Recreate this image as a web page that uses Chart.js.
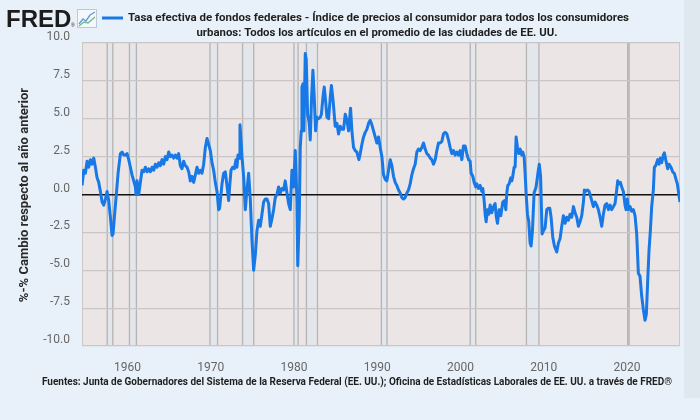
<!DOCTYPE html>
<html lang="es">
<head>
<meta charset="utf-8">
<title>Tasa efectiva de fondos federales - IPC</title>
<script src="https://cdn.jsdelivr.net/npm/chart.js@4.4.1/dist/chart.umd.min.js"></script>
<style>
  html, body { margin: 0; padding: 0; background: #e8f1f9; }
  #contenedor { width: 700px; height: 420px; }
</style>
</head>
<body>
<div id="contenedor"><canvas id="grafica" width="700" height="420"></canvas></div>
<script>
// Fechas (año decimal) y valores (%)
const anios = [
  1954.56, 1954.76, 1954.96, 1955.16, 1955.36, 1955.56, 1955.76, 1955.96, 1956.16, 1956.36,
  1956.56, 1956.76, 1956.96, 1957.16, 1957.36, 1957.56, 1957.76, 1957.96, 1958.16, 1958.28,
  1958.44, 1958.64, 1958.88, 1959.16, 1959.36, 1959.56, 1959.76, 1959.96, 1960.16, 1960.36,
  1960.56, 1960.76, 1960.96, 1961.04, 1961.16, 1961.36, 1961.56, 1961.76, 1961.96, 1962.16,
  1962.36, 1962.56, 1962.76, 1962.96, 1963.16, 1963.36, 1963.56, 1963.76, 1963.96, 1964.16,
  1964.36, 1964.56, 1964.76, 1964.96, 1965.16, 1965.36, 1965.56, 1965.76, 1965.96, 1966.16,
  1966.36, 1966.56, 1966.76, 1966.96, 1967.16, 1967.36, 1967.56, 1967.76, 1967.96, 1968.16,
  1968.36, 1968.56, 1968.76, 1968.96, 1969.16, 1969.36, 1969.56, 1969.76, 1969.96, 1970.16,
  1970.36, 1970.56, 1970.76, 1970.96, 1971.08, 1971.24, 1971.36, 1971.56, 1971.76, 1971.96,
  1972.16, 1972.28, 1972.44, 1972.64, 1972.84, 1973.04, 1973.16, 1973.28, 1973.44, 1973.52,
  1973.64, 1973.76, 1973.96, 1974.16, 1974.36, 1974.56, 1974.76, 1974.96, 1975.16, 1975.36,
  1975.56, 1975.76, 1975.96, 1976.16, 1976.36, 1976.56, 1976.76, 1976.96, 1977.16, 1977.36,
  1977.56, 1977.76, 1977.96, 1978.16, 1978.36, 1978.56, 1978.76, 1978.96, 1979.16, 1979.36,
  1979.56, 1979.76, 1979.96, 1980.16, 1980.36, 1980.46, 1980.64, 1980.76, 1980.88, 1980.96,
  1981.08, 1981.20, 1981.36, 1981.48, 1981.64, 1981.84, 1981.96, 1982.12, 1982.28, 1982.44,
  1982.60, 1982.76, 1982.96, 1983.16, 1983.30, 1983.48, 1983.64, 1983.80, 1983.96, 1984.16,
  1984.36, 1984.50, 1984.70, 1984.96, 1985.16, 1985.36, 1985.56, 1985.76, 1985.96, 1986.16,
  1986.36, 1986.56, 1986.80, 1986.96, 1987.16, 1987.36, 1987.56, 1987.80, 1987.96, 1988.16,
  1988.36, 1988.56, 1988.76, 1988.96, 1989.16, 1989.36, 1989.56, 1989.76, 1989.96, 1990.16,
  1990.36, 1990.56, 1990.76, 1990.96, 1991.16, 1991.36, 1991.56, 1991.76, 1991.96, 1992.16,
  1992.36, 1992.56, 1992.76, 1992.96, 1993.16, 1993.36, 1993.56, 1993.76, 1993.96, 1994.16,
  1994.36, 1994.56, 1994.76, 1994.96, 1995.16, 1995.36, 1995.56, 1995.76, 1995.96, 1996.16,
  1996.36, 1996.56, 1996.76, 1996.96, 1997.16, 1997.36, 1997.56, 1997.76, 1997.96, 1998.16,
  1998.36, 1998.56, 1998.76, 1998.96, 1999.16, 1999.36, 1999.56, 1999.76, 1999.96, 2000.16,
  2000.36, 2000.56, 2000.76, 2000.96, 2001.16, 2001.28, 2001.48, 2001.64, 2001.84, 2001.96,
  2002.16, 2002.36, 2002.56, 2002.68, 2002.84, 2002.96, 2003.08, 2003.24, 2003.40, 2003.56,
  2003.76, 2003.96, 2004.16, 2004.28, 2004.44, 2004.64, 2004.84, 2005.08, 2005.28, 2005.44,
  2005.56, 2005.68, 2005.84, 2006.04, 2006.16, 2006.28, 2006.44, 2006.56, 2006.68, 2006.84,
  2007.00, 2007.16, 2007.36, 2007.48, 2007.64, 2007.76, 2007.88, 2008.04, 2008.20, 2008.36,
  2008.48, 2008.64, 2008.84, 2009.08, 2009.30, 2009.46, 2009.62, 2009.80, 2009.96, 2010.16,
  2010.36, 2010.56, 2010.72, 2010.88, 2011.08, 2011.28, 2011.56, 2011.76, 2011.96, 2012.16,
  2012.36, 2012.56, 2012.76, 2012.96, 2013.16, 2013.36, 2013.56, 2013.76, 2013.96, 2014.16,
  2014.36, 2014.56, 2014.76, 2014.88, 2015.04, 2015.24, 2015.44, 2015.56, 2015.76, 2015.96,
  2016.16, 2016.36, 2016.56, 2016.76, 2016.96, 2017.16, 2017.36, 2017.56, 2017.76, 2017.96,
  2018.16, 2018.36, 2018.56, 2018.76, 2018.88, 2019.04, 2019.20, 2019.36, 2019.56, 2019.76,
  2019.88, 2020.04, 2020.16, 2020.36, 2020.56, 2020.76, 2020.96, 2021.16, 2021.36, 2021.56,
  2021.76, 2021.96, 2022.16, 2022.32, 2022.48, 2022.64, 2022.80, 2022.96, 2023.16, 2023.28,
  2023.44, 2023.68, 2023.84, 2024.00, 2024.16, 2024.36, 2024.48, 2024.64, 2024.88, 2025.04,
  2025.28, 2025.48, 2025.68, 2025.88, 2026.04, 2026.20, 2026.36
];
const valores = [
  0.6, 1.6, 1.4, 2.2, 1.8, 2.3, 2.0, 2.4, 1.8, 1.1,
  0.8, 0.2, -0.5, -0.7, -0.3, 0.2, -0.4, -1.5, -2.7, -2.6,
  -1.5, -0.2, 1.4, 2.7, 2.8, 2.6, 2.6, 2.7, 2.3, 1.8,
  1.3, 0.9, 0.5, 0.0, 0.9, 0.0, 0.8, 1.6, 1.5, 1.8,
  1.5, 1.7, 1.5, 1.8, 1.6, 2.0, 1.8, 2.1, 1.9, 2.3,
  2.0, 2.5, 2.3, 2.8, 2.5, 2.6, 2.4, 2.6, 2.4, 2.7,
  1.9, 1.7, 2.2, 1.9, 1.8, 1.5, 0.9, 1.2, 0.8, 1.3,
  1.8, 1.4, 1.6, 1.4, 2.0, 3.1, 3.7, 3.3, 2.9, 2.1,
  1.6, 0.8, 0.2, -1.0, -0.9, 0.0, 0.7, 1.4, 1.5, 0.6,
  -0.4, 0.5, 1.6, 1.8, 1.7, 2.3, 1.8, 2.6, 2.4, 4.6,
  3.6, 2.5, 1.2, -1.0, 0.3, 1.4, -0.3, -3.0, -5.0, -4.0,
  -2.4, -1.7, -2.1, -1.3, -0.5, -0.3, -0.3, -0.6, -2.1, -1.6,
  -1.0, -0.2, 0.0, 0.5, 0.1, 0.4, 0.3, 0.9, 0.1, -0.6,
  -1.0, 1.6, 0.5, 2.9, -0.4, -4.7, -1.5, 3.1, 4.2, 7.1,
  7.3, 4.2, 9.3, 8.9, 5.3, 4.7, 3.6, 6.4, 8.2, 6.4,
  4.2, 5.1, 5.0, 5.1, 5.3, 6.4, 7.1, 6.2, 5.1, 5.0,
  6.4, 7.2, 6.2, 4.5, 4.7, 4.0, 4.5, 4.3, 4.3, 5.3,
  4.9, 4.2, 5.7, 4.2, 3.1, 2.9, 2.8, 2.3, 2.7, 3.3,
  3.8, 4.1, 4.3, 4.7, 4.9, 4.6, 4.2, 3.8, 3.4, 3.8,
  3.1, 2.5, 1.3, 1.0, 0.9, 1.6, 2.3, 1.9, 1.2, 0.8,
  0.6, 0.3, 0.1, -0.2, -0.3, -0.2, 0.1, 0.3, 0.7, 1.3,
  1.7, 2.0, 2.8, 3.0, 2.9, 3.1, 3.4, 3.0, 2.7, 2.6,
  2.4, 2.3, 2.0, 2.3, 2.9, 3.4, 3.4, 3.5, 4.0, 4.1,
  4.0, 3.6, 3.1, 2.7, 2.9, 2.6, 2.8, 2.6, 2.9, 2.3,
  3.2, 3.2, 2.7, 2.3, 2.2, 1.4, 1.2, 0.8, 0.5, 0.7,
  0.4, 0.6, 0.2, 0.4, -0.4, -1.3, -1.8, -1.0, -1.3, -0.7,
  -1.2, -0.8, -0.6, -1.4, -1.9, -1.0, -1.4, -0.5, -0.4, -1.0,
  0.1, 0.6, 0.7, 1.1, 0.9, 1.2, 1.8, 1.8, 3.8, 3.1,
  2.7, 3.0, 2.6, 2.8, 2.5, 1.4, 0.1, -1.3, -1.8, -3.2,
  -3.4, -2.4, 0.1, 0.5, 1.4, 2.0, 1.2, -2.6, -2.4, -2.2,
  -1.0, -0.9, -0.9, -1.5, -2.8, -3.4, -3.8, -3.2, -2.9, -2.1,
  -1.4, -1.9, -1.5, -1.7, -1.3, -1.5, -0.8, -1.2, -1.5, -2.1,
  -1.8, -1.4, -0.5, 0.3, 0.2, 0.3, 0.2, 0.0, -0.4, -0.8,
  -0.5, -0.7, -1.0, -1.5, -2.1, -1.3, -0.7, -0.6, -1.0, -0.7,
  -1.0, -0.8, -0.6, 0.3, 0.9, 0.7, 0.8, 0.5, 0.2, -0.7,
  -1.0, -0.3, -1.0, -0.8, -1.1, -1.0, -1.4, -2.6, -5.2, -5.4,
  -6.7, -7.6, -8.3, -7.9, -5.7, -3.7, -2.4, -0.8, 0.3, 1.8,
  1.9, 2.3, 2.0, 2.4, 2.1, 2.6, 2.75, 2.3, 1.7, 2.0,
  1.8, 1.5, 1.4, 1.0, 0.7, 0.1, -0.5
];

// Recesiones (sombreado gris), año decimal
const recesionInicio = [1957.58, 1960.25, 1969.92, 1973.83, 1980.00, 1981.50, 1990.50, 2001.17, 2007.92, 2020.08];
const recesionFin    = [1958.25, 1961.08, 1970.83, 1975.17, 1980.50, 1982.83, 1991.17, 2001.83, 2009.42, 2020.25];

// Marcas de los ejes
const ticksAnios = [1960, 1970, 1980, 1990, 2000, 2010, 2020];
const ticksValores = [-10, -7.5, -5, -2.5, 0, 2.5, 5, 7.5, 10];

const tituloLinea1 = 'Tasa efectiva de fondos federales - Índice de precios al consumidor para todos los consumidores';
const tituloLinea2 = 'urbanos: Todos los artículos en el promedio de las ciudades de EE. UU.';
const tituloEjeY = '%-% Cambio respecto al año anterior';
const fuentes = 'Fuentes: Junta de Gobernadores del Sistema de la Reserva Federal (EE. UU.); Oficina de Estadísticas Laborales de EE. UU. a través de FRED®';

const colorLinea = '#1778e6';

Chart.defaults.font.family = 'Roboto, "Liberation Sans", sans-serif';

// Fondo, recesiones y textos al estilo FRED
const pluginFred = {
    id: 'pluginFred',
    beforeDraw(chart) {
        const ctx = chart.ctx;
        const a = chart.chartArea;
        const x = chart.scales.x;
        ctx.save();
        ctx.fillStyle = '#e8f1f9';
        ctx.fillRect(0, 0, chart.width, chart.height);
        // franja derecha algo más oscura
        ctx.fillStyle = '#dfe7ef';
        ctx.fillRect(684, 0, 16, 398);
        // área del gráfico
        ctx.fillStyle = '#ece5e5';
        ctx.fillRect(a.left, a.top, a.right - a.left, a.bottom - a.top);
        // recesiones
        for (let i = 0; i < recesionInicio.length; i++) {
            const x0 = x.getPixelForValue(recesionInicio[i]);
            const x1 = x.getPixelForValue(recesionFin[i]);
            ctx.fillStyle = '#e3e6ea';
            ctx.fillRect(x0, a.top, x1 - x0, a.bottom - a.top);
            ctx.strokeStyle = '#b4b4b6';
            ctx.lineWidth = 1.3;
            ctx.beginPath();
            ctx.moveTo(x0, a.top); ctx.lineTo(x0, a.bottom);
            ctx.moveTo(x1, a.top); ctx.lineTo(x1, a.bottom);
            ctx.stroke();
        }
        // bordes laterales del área
        ctx.strokeStyle = '#cdc8c8';
        ctx.lineWidth = 1;
        ctx.beginPath();
        ctx.moveTo(a.left + 0.5, a.top); ctx.lineTo(a.left + 0.5, a.bottom);
        ctx.moveTo(a.right - 0.5, a.top); ctx.lineTo(a.right - 0.5, a.bottom);
        ctx.stroke();
        ctx.restore();
    },
    afterDraw(chart) {
        const ctx = chart.ctx;
        ctx.save();
        // logo FRED
        ctx.fillStyle = '#1c1c1c';
        ctx.font = 'bold 24px "Liberation Sans"';
        ctx.textAlign = 'left';
        ctx.textBaseline = 'alphabetic';
        ctx.fillText('FRED', 6, 27, 66);
        ctx.font = '5px "Liberation Sans"';
        ctx.fillText('®', 71, 27);
        // icono
        ctx.fillStyle = '#f4f8fc';
        ctx.strokeStyle = '#b7c9dc';
        ctx.lineWidth = 1;
        ctx.fillRect(77.5, 9.5, 19, 18);
        ctx.strokeRect(77.5, 9.5, 19, 18);
        ctx.lineWidth = 1.4;
        ctx.strokeStyle = '#6b9ad8';
        ctx.beginPath();
        ctx.moveTo(79, 24); ctx.lineTo(83, 19); ctx.lineTo(86, 21); ctx.lineTo(90, 15); ctx.lineTo(95, 12);
        ctx.stroke();
        ctx.strokeStyle = '#6cbf8c';
        ctx.beginPath();
        ctx.moveTo(79, 26); ctx.lineTo(84, 22); ctx.lineTo(88, 23); ctx.lineTo(95, 17);
        ctx.stroke();
        // leyenda
        ctx.strokeStyle = colorLinea;
        ctx.lineWidth = 3;
        ctx.beginPath();
        ctx.moveTo(102, 18); ctx.lineTo(123, 18);
        ctx.stroke();
        // título
        ctx.fillStyle = '#1f1f1f';
        ctx.font = 'bold 11.5px Roboto';
        ctx.textBaseline = 'middle';
        ctx.textAlign = 'left';
        ctx.fillText(tituloLinea1, 128, 18, 502);
        ctx.textAlign = 'center';
        ctx.fillText(tituloLinea2, 377, 33, 361);
        // título del eje Y
        ctx.save();
        ctx.translate(25, 195);
        ctx.rotate(-Math.PI / 2);
        ctx.font = 'bold 13px Roboto';
        ctx.fillStyle = '#2a2a2a';
        ctx.fillText(tituloEjeY, 0, 0, 216);
        ctx.restore();
        // fuentes
        ctx.font = 'bold 10px Roboto';
        ctx.textAlign = 'left';
        ctx.fillStyle = '#1f1f1f';
        ctx.fillText(fuentes, 42, 382, 630);
        ctx.restore();
    }
};

const puntos = anios.map((a, i) => ({ x: a, y: valores[i] }));

new Chart(document.getElementById('grafica'), {
    type: 'line',
    data: {
        datasets: [{
            label: tituloLinea1,
            data: puntos,
            borderColor: colorLinea,
            borderWidth: 3,
            pointRadius: 0,
            tension: 0,
            borderJoinStyle: 'round',
            fill: false
        }]
    },
    options: {
        responsive: false,
        animation: false,
        devicePixelRatio: 1,
        layout: { padding: { top: 43, right: 20, bottom: 0, left: 0 } },
        plugins: {
            legend: { display: false },
            tooltip: { enabled: false },
            title: { display: false }
        },
        scales: {
            x: {
                type: 'linear',
                min: 1954.55,
                max: 2026.36,
                afterBuildTicks: s => { s.ticks = ticksAnios.map(v => ({ value: v })); },
                afterFit: s => { s.height = 74; },
                grid: { display: false },
                border: { display: false },
                ticks: {
                    padding: 7,
                    color: '#666',
                    font: { size: 12 },
                    maxRotation: 0,
                    callback: v => String(v)
                }
            },
            y: {
                min: -10,
                max: 10,
                afterBuildTicks: s => { s.ticks = ticksValores.map(v => ({ value: v })); },
                afterFit: s => { s.width = 82; },
                border: { display: false },
                grid: {
                    drawTicks: false,
                    color: c => c.tick && c.tick.value === 0 ? '#111' : '#cbc6c6',
                    lineWidth: c => c.tick && c.tick.value === 0 ? 1.6 : 1.2
                },
                ticks: {
                    padding: 12,
                    labelOffset: -6,
                    color: '#666',
                    font: { size: 12 },
                    callback: v => v.toFixed(1)
                }
            }
        }
    },
    plugins: [pluginFred]
});
</script>
</body>
</html>
